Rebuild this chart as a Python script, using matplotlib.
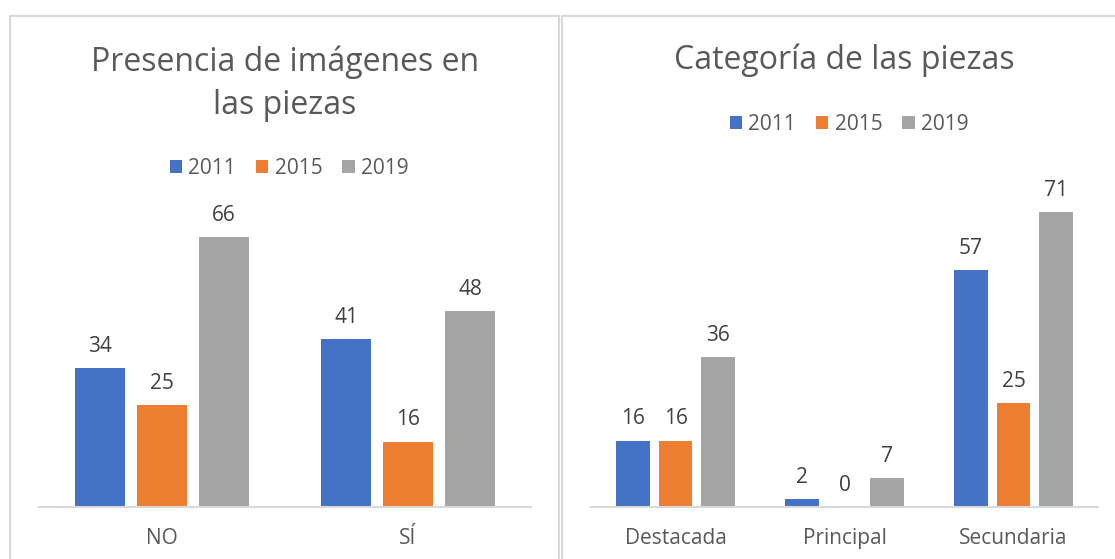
import matplotlib
matplotlib.use("Agg")
import matplotlib.pyplot as plt
import numpy as np
from matplotlib.patches import Rectangle

plt.rcParams['font.family'] = ['Open Sans', 'DejaVu Sans']

# Data
series = ['2011', '2015', '2019']
colors = ['#4472C4', '#ED7D31', '#A5A5A5']

cats_left = ['NO', 'SÍ']
vals_left = {'2011': [34, 41], '2015': [25, 16], '2019': [66, 48]}

cats_right = ['Destacada', 'Principal', 'Secundaria']
vals_right = {'2011': [16, 2, 57], '2015': [16, 0, 25], '2019': [36, 7, 71]}

W, H = 1115, 559
fig = plt.figure(figsize=(W / 100, H / 100), dpi=100)

def fx(px):
    return px / W

def fy(py):
    return 1 - py / H

# Panel borders
border_col = '#d9d9d9'
fig.patches.append(Rectangle((fx(10), fy(575)), fx(559) - fx(10), fy(16) - fy(575),
                             transform=fig.transFigure, fill=False, ec=border_col, lw=1.5))
fig.patches.append(Rectangle((fx(562), fy(575)), fx(1130) - fx(562), fy(16) - fy(575),
                             transform=fig.transFigure, fill=False, ec=border_col, lw=1.5))

text_col = '#595959'
label_col = '#404040'

def draw(ax, cats, vals, ymax):
    x = np.arange(len(cats))
    offs = [-0.252, 0.0, 0.252]
    for s, c, o in zip(series, colors, offs):
        bars = ax.bar(x + o, vals[s], width=0.2, color=c, label=s)
        for b, v in zip(bars, vals[s]):
            ax.annotate(str(v), (b.get_x() + b.get_width() / 2, v), xytext=(0, 8),
                        textcoords='offset points', ha='center', va='bottom',
                        fontsize=15, color=label_col)
    ax.set_xlim(-0.5, len(cats) - 0.5)
    ax.set_ylim(0, ymax)
    ax.set_xticks(x)
    ax.set_xticklabels(cats, fontsize=15, color=text_col)
    ax.tick_params(axis='x', length=0, pad=15)
    ax.set_yticks([])
    for sp in ['top', 'right', 'left']:
        ax.spines[sp].set_visible(False)
    ax.spines['bottom'].set_color(border_col)
    ax.spines['bottom'].set_linewidth(1.5)

# Left axes: x 39..531, baseline y=507, 4.09 px/unit
ax1 = fig.add_axes([fx(39), fy(507), fx(531) - fx(39), 70 * 4.09 / H])
draw(ax1, cats_left, vals_left, 70)

# Right axes: x 591..1098, baseline y=507, 4.155 px/unit
ax2 = fig.add_axes([fx(591), fy(507), fx(1098) - fx(591), 75 * 4.155 / H])
draw(ax2, cats_right, vals_right, 75)

# Titles
fig.text(fx(285), fy(62), 'Presencia de imágenes en', ha='center', va='center',
         fontsize=23, color=text_col)
fig.text(fx(285), fy(106), 'las piezas', ha='center', va='center',
         fontsize=23, color=text_col)
fig.text(fx(844), fy(60), 'Categoría de las piezas', ha='center', va='center',
         fontsize=23, color=text_col)

# Legends
h, l = ax1.get_legend_handles_labels()
for cx, cy in [(289, 168), (849, 124)]:
    fig.legend(h, l, loc='center', bbox_to_anchor=(fx(cx), fy(cy)), ncol=3, frameon=False,
               fontsize=15, labelcolor=text_col, handlelength=0.6, handleheight=0.6,
               handletextpad=0.3, columnspacing=0.95, borderpad=0)

fig.savefig('out.png', dpi=100, facecolor='white')
